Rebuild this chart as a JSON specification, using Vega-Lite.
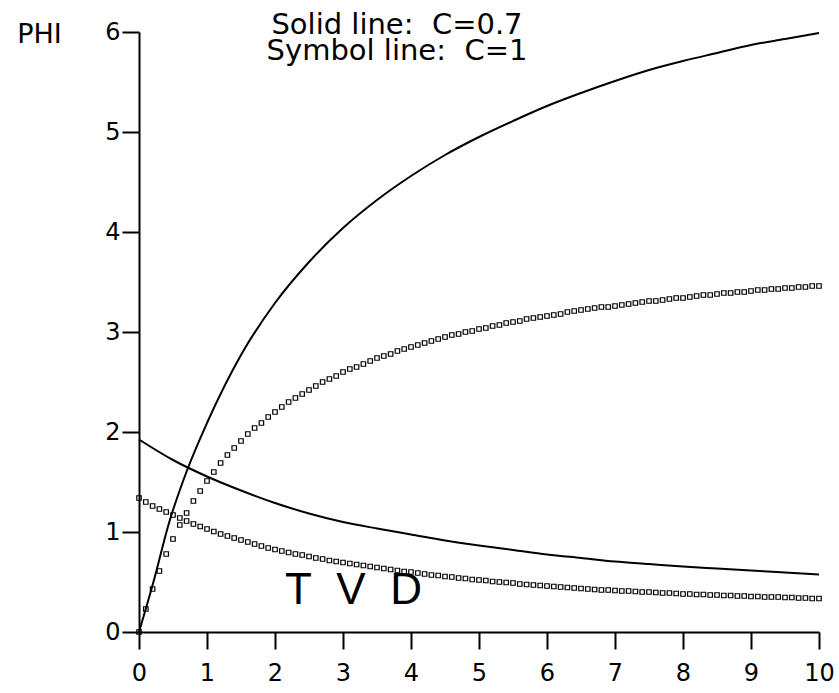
{
  "$schema": "https://vega.github.io/schema/vega-lite/v6.json",
  "autosize": "none",
  "width": 680,
  "height": 600,
  "padding": {"left": 139, "top": 32, "right": 20, "bottom": 61},
  "background": "white",
  "config": {
    "view": {"stroke": null},
    "font": "DejaVu Sans",
    "axis": {"labelFont": "DejaVu Sans", "titleFont": "DejaVu Sans", "labelColor": "black", "titleColor": "black", "domainColor": "black", "tickColor": "black", "grid": false}
  },
  "title": {
    "text": ["Solid line:\u00a0\u00a0C=0.7", "Symbol line:\u00a0\u00a0C=1"],
    "font": "DejaVu Sans",
    "fontSize": 29,
    "fontWeight": "normal",
    "color": "black",
    "anchor": "middle",
    "frame": "group",
    "lineHeight": 26,
    "offset": -46,
    "dx": -82
  },
  "datasets": {
    "solid": [
      {"x": 0, "phi": 0, "curve": "up"},
      {"x": 0.2, "phi": 0.47, "curve": "up"},
      {"x": 0.45, "phi": 1.11, "curve": "up"},
      {"x": 0.72, "phi": 1.64, "curve": "up"},
      {"x": 1.0, "phi": 2.09, "curve": "up"},
      {"x": 1.5, "phi": 2.77, "curve": "up"},
      {"x": 2.0, "phi": 3.29, "curve": "up"},
      {"x": 2.5, "phi": 3.7, "curve": "up"},
      {"x": 3.0, "phi": 4.04, "curve": "up"},
      {"x": 3.5, "phi": 4.32, "curve": "up"},
      {"x": 4.0, "phi": 4.56, "curve": "up"},
      {"x": 4.5, "phi": 4.77, "curve": "up"},
      {"x": 5.0, "phi": 4.95, "curve": "up"},
      {"x": 5.5, "phi": 5.11, "curve": "up"},
      {"x": 6.0, "phi": 5.26, "curve": "up"},
      {"x": 6.5, "phi": 5.39, "curve": "up"},
      {"x": 7.0, "phi": 5.51, "curve": "up"},
      {"x": 7.5, "phi": 5.62, "curve": "up"},
      {"x": 8.0, "phi": 5.71, "curve": "up"},
      {"x": 8.5, "phi": 5.79, "curve": "up"},
      {"x": 9.0, "phi": 5.87, "curve": "up"},
      {"x": 9.5, "phi": 5.93, "curve": "up"},
      {"x": 10, "phi": 5.99, "curve": "up"},
      {"x": 0, "phi": 1.925, "curve": "down"},
      {"x": 0.5, "phi": 1.72, "curve": "down"},
      {"x": 1.0, "phi": 1.555, "curve": "down"},
      {"x": 1.5, "phi": 1.415, "curve": "down"},
      {"x": 2.0, "phi": 1.29, "curve": "down"},
      {"x": 2.5, "phi": 1.185, "curve": "down"},
      {"x": 3.0, "phi": 1.1, "curve": "down"},
      {"x": 3.5, "phi": 1.035, "curve": "down"},
      {"x": 4.0, "phi": 0.975, "curve": "down"},
      {"x": 4.5, "phi": 0.915, "curve": "down"},
      {"x": 5.0, "phi": 0.865, "curve": "down"},
      {"x": 5.5, "phi": 0.82, "curve": "down"},
      {"x": 6.0, "phi": 0.775, "curve": "down"},
      {"x": 6.5, "phi": 0.74, "curve": "down"},
      {"x": 7.0, "phi": 0.705, "curve": "down"},
      {"x": 7.5, "phi": 0.68, "curve": "down"},
      {"x": 8.0, "phi": 0.655, "curve": "down"},
      {"x": 8.5, "phi": 0.635, "curve": "down"},
      {"x": 9.0, "phi": 0.615, "curve": "down"},
      {"x": 9.5, "phi": 0.595, "curve": "down"},
      {"x": 10, "phi": 0.575, "curve": "down"}
    ],
    "symbol": [
      {"x": 0.0, "phi": 0.0, "curve": "up"},
      {"x": 0.1, "phi": 0.23, "curve": "up"},
      {"x": 0.2, "phi": 0.43, "curve": "up"},
      {"x": 0.3, "phi": 0.61, "curve": "up"},
      {"x": 0.4, "phi": 0.78, "curve": "up"},
      {"x": 0.5, "phi": 0.93, "curve": "up"},
      {"x": 0.6, "phi": 1.07, "curve": "up"},
      {"x": 0.7, "phi": 1.19, "curve": "up"},
      {"x": 0.8, "phi": 1.31, "curve": "up"},
      {"x": 0.9, "phi": 1.41, "curve": "up"},
      {"x": 1.0, "phi": 1.51, "curve": "up"},
      {"x": 1.1, "phi": 1.6, "curve": "up"},
      {"x": 1.2, "phi": 1.69, "curve": "up"},
      {"x": 1.3, "phi": 1.77, "curve": "up"},
      {"x": 1.4, "phi": 1.84, "curve": "up"},
      {"x": 1.5, "phi": 1.91, "curve": "up"},
      {"x": 1.6, "phi": 1.98, "curve": "up"},
      {"x": 1.7, "phi": 2.04, "curve": "up"},
      {"x": 1.8, "phi": 2.09, "curve": "up"},
      {"x": 1.9, "phi": 2.15, "curve": "up"},
      {"x": 2.0, "phi": 2.2, "curve": "up"},
      {"x": 2.1, "phi": 2.25, "curve": "up"},
      {"x": 2.2, "phi": 2.3, "curve": "up"},
      {"x": 2.3, "phi": 2.34, "curve": "up"},
      {"x": 2.4, "phi": 2.38, "curve": "up"},
      {"x": 2.5, "phi": 2.42, "curve": "up"},
      {"x": 2.6, "phi": 2.46, "curve": "up"},
      {"x": 2.7, "phi": 2.5, "curve": "up"},
      {"x": 2.8, "phi": 2.53, "curve": "up"},
      {"x": 2.9, "phi": 2.56, "curve": "up"},
      {"x": 3.0, "phi": 2.6, "curve": "up"},
      {"x": 3.1, "phi": 2.63, "curve": "up"},
      {"x": 3.2, "phi": 2.65, "curve": "up"},
      {"x": 3.3, "phi": 2.68, "curve": "up"},
      {"x": 3.4, "phi": 2.71, "curve": "up"},
      {"x": 3.5, "phi": 2.74, "curve": "up"},
      {"x": 3.6, "phi": 2.76, "curve": "up"},
      {"x": 3.7, "phi": 2.78, "curve": "up"},
      {"x": 3.8, "phi": 2.81, "curve": "up"},
      {"x": 3.9, "phi": 2.83, "curve": "up"},
      {"x": 4.0, "phi": 2.85, "curve": "up"},
      {"x": 4.1, "phi": 2.87, "curve": "up"},
      {"x": 4.2, "phi": 2.89, "curve": "up"},
      {"x": 4.3, "phi": 2.91, "curve": "up"},
      {"x": 4.4, "phi": 2.93, "curve": "up"},
      {"x": 4.5, "phi": 2.95, "curve": "up"},
      {"x": 4.6, "phi": 2.97, "curve": "up"},
      {"x": 4.7, "phi": 2.98, "curve": "up"},
      {"x": 4.8, "phi": 3.0, "curve": "up"},
      {"x": 4.9, "phi": 3.01, "curve": "up"},
      {"x": 5.0, "phi": 3.03, "curve": "up"},
      {"x": 5.1, "phi": 3.04, "curve": "up"},
      {"x": 5.2, "phi": 3.06, "curve": "up"},
      {"x": 5.3, "phi": 3.07, "curve": "up"},
      {"x": 5.4, "phi": 3.09, "curve": "up"},
      {"x": 5.5, "phi": 3.1, "curve": "up"},
      {"x": 5.6, "phi": 3.11, "curve": "up"},
      {"x": 5.7, "phi": 3.13, "curve": "up"},
      {"x": 5.8, "phi": 3.14, "curve": "up"},
      {"x": 5.9, "phi": 3.15, "curve": "up"},
      {"x": 6.0, "phi": 3.16, "curve": "up"},
      {"x": 6.1, "phi": 3.17, "curve": "up"},
      {"x": 6.2, "phi": 3.18, "curve": "up"},
      {"x": 6.3, "phi": 3.2, "curve": "up"},
      {"x": 6.4, "phi": 3.21, "curve": "up"},
      {"x": 6.5, "phi": 3.22, "curve": "up"},
      {"x": 6.6, "phi": 3.23, "curve": "up"},
      {"x": 6.7, "phi": 3.24, "curve": "up"},
      {"x": 6.8, "phi": 3.25, "curve": "up"},
      {"x": 6.9, "phi": 3.25, "curve": "up"},
      {"x": 7.0, "phi": 3.26, "curve": "up"},
      {"x": 7.1, "phi": 3.27, "curve": "up"},
      {"x": 7.2, "phi": 3.28, "curve": "up"},
      {"x": 7.3, "phi": 3.29, "curve": "up"},
      {"x": 7.4, "phi": 3.3, "curve": "up"},
      {"x": 7.5, "phi": 3.31, "curve": "up"},
      {"x": 7.6, "phi": 3.31, "curve": "up"},
      {"x": 7.7, "phi": 3.32, "curve": "up"},
      {"x": 7.8, "phi": 3.33, "curve": "up"},
      {"x": 7.9, "phi": 3.34, "curve": "up"},
      {"x": 8.0, "phi": 3.34, "curve": "up"},
      {"x": 8.1, "phi": 3.35, "curve": "up"},
      {"x": 8.2, "phi": 3.36, "curve": "up"},
      {"x": 8.3, "phi": 3.37, "curve": "up"},
      {"x": 8.4, "phi": 3.37, "curve": "up"},
      {"x": 8.5, "phi": 3.38, "curve": "up"},
      {"x": 8.6, "phi": 3.39, "curve": "up"},
      {"x": 8.7, "phi": 3.39, "curve": "up"},
      {"x": 8.8, "phi": 3.4, "curve": "up"},
      {"x": 8.9, "phi": 3.4, "curve": "up"},
      {"x": 9.0, "phi": 3.41, "curve": "up"},
      {"x": 9.1, "phi": 3.42, "curve": "up"},
      {"x": 9.2, "phi": 3.42, "curve": "up"},
      {"x": 9.3, "phi": 3.43, "curve": "up"},
      {"x": 9.4, "phi": 3.43, "curve": "up"},
      {"x": 9.5, "phi": 3.44, "curve": "up"},
      {"x": 9.6, "phi": 3.44, "curve": "up"},
      {"x": 9.7, "phi": 3.45, "curve": "up"},
      {"x": 9.8, "phi": 3.45, "curve": "up"},
      {"x": 9.9, "phi": 3.46, "curve": "up"},
      {"x": 10.0, "phi": 3.46, "curve": "up"},
      {"x": 0.0, "phi": 1.34, "curve": "down"},
      {"x": 0.1, "phi": 1.3, "curve": "down"},
      {"x": 0.2, "phi": 1.26, "curve": "down"},
      {"x": 0.3, "phi": 1.23, "curve": "down"},
      {"x": 0.4, "phi": 1.2, "curve": "down"},
      {"x": 0.5, "phi": 1.17, "curve": "down"},
      {"x": 0.6, "phi": 1.14, "curve": "down"},
      {"x": 0.7, "phi": 1.11, "curve": "down"},
      {"x": 0.8, "phi": 1.08, "curve": "down"},
      {"x": 0.9, "phi": 1.055, "curve": "down"},
      {"x": 1.0, "phi": 1.03, "curve": "down"},
      {"x": 1.1, "phi": 1.005, "curve": "down"},
      {"x": 1.2, "phi": 0.98, "curve": "down"},
      {"x": 1.3, "phi": 0.96, "curve": "down"},
      {"x": 1.4, "phi": 0.94, "curve": "down"},
      {"x": 1.5, "phi": 0.92, "curve": "down"},
      {"x": 1.6, "phi": 0.9, "curve": "down"},
      {"x": 1.7, "phi": 0.88, "curve": "down"},
      {"x": 1.8, "phi": 0.86, "curve": "down"},
      {"x": 1.9, "phi": 0.84, "curve": "down"},
      {"x": 2.0, "phi": 0.825, "curve": "down"},
      {"x": 2.1, "phi": 0.81, "curve": "down"},
      {"x": 2.2, "phi": 0.795, "curve": "down"},
      {"x": 2.3, "phi": 0.78, "curve": "down"},
      {"x": 2.4, "phi": 0.77, "curve": "down"},
      {"x": 2.5, "phi": 0.755, "curve": "down"},
      {"x": 2.6, "phi": 0.74, "curve": "down"},
      {"x": 2.7, "phi": 0.73, "curve": "down"},
      {"x": 2.8, "phi": 0.715, "curve": "down"},
      {"x": 2.9, "phi": 0.705, "curve": "down"},
      {"x": 3.0, "phi": 0.695, "curve": "down"},
      {"x": 3.1, "phi": 0.685, "curve": "down"},
      {"x": 3.2, "phi": 0.675, "curve": "down"},
      {"x": 3.3, "phi": 0.665, "curve": "down"},
      {"x": 3.4, "phi": 0.655, "curve": "down"},
      {"x": 3.5, "phi": 0.645, "curve": "down"},
      {"x": 3.6, "phi": 0.635, "curve": "down"},
      {"x": 3.7, "phi": 0.625, "curve": "down"},
      {"x": 3.8, "phi": 0.615, "curve": "down"},
      {"x": 3.9, "phi": 0.605, "curve": "down"},
      {"x": 4.0, "phi": 0.6, "curve": "down"},
      {"x": 4.1, "phi": 0.59, "curve": "down"},
      {"x": 4.2, "phi": 0.58, "curve": "down"},
      {"x": 4.3, "phi": 0.57, "curve": "down"},
      {"x": 4.4, "phi": 0.565, "curve": "down"},
      {"x": 4.5, "phi": 0.555, "curve": "down"},
      {"x": 4.6, "phi": 0.55, "curve": "down"},
      {"x": 4.7, "phi": 0.54, "curve": "down"},
      {"x": 4.8, "phi": 0.535, "curve": "down"},
      {"x": 4.9, "phi": 0.525, "curve": "down"},
      {"x": 5.0, "phi": 0.52, "curve": "down"},
      {"x": 5.1, "phi": 0.515, "curve": "down"},
      {"x": 5.2, "phi": 0.505, "curve": "down"},
      {"x": 5.3, "phi": 0.5, "curve": "down"},
      {"x": 5.4, "phi": 0.495, "curve": "down"},
      {"x": 5.5, "phi": 0.49, "curve": "down"},
      {"x": 5.6, "phi": 0.48, "curve": "down"},
      {"x": 5.7, "phi": 0.475, "curve": "down"},
      {"x": 5.8, "phi": 0.47, "curve": "down"},
      {"x": 5.9, "phi": 0.465, "curve": "down"},
      {"x": 6.0, "phi": 0.46, "curve": "down"},
      {"x": 6.1, "phi": 0.455, "curve": "down"},
      {"x": 6.2, "phi": 0.45, "curve": "down"},
      {"x": 6.3, "phi": 0.445, "curve": "down"},
      {"x": 6.4, "phi": 0.44, "curve": "down"},
      {"x": 6.5, "phi": 0.435, "curve": "down"},
      {"x": 6.6, "phi": 0.43, "curve": "down"},
      {"x": 6.7, "phi": 0.425, "curve": "down"},
      {"x": 6.8, "phi": 0.42, "curve": "down"},
      {"x": 6.9, "phi": 0.42, "curve": "down"},
      {"x": 7.0, "phi": 0.415, "curve": "down"},
      {"x": 7.1, "phi": 0.41, "curve": "down"},
      {"x": 7.2, "phi": 0.41, "curve": "down"},
      {"x": 7.3, "phi": 0.405, "curve": "down"},
      {"x": 7.4, "phi": 0.4, "curve": "down"},
      {"x": 7.5, "phi": 0.4, "curve": "down"},
      {"x": 7.6, "phi": 0.395, "curve": "down"},
      {"x": 7.7, "phi": 0.39, "curve": "down"},
      {"x": 7.8, "phi": 0.39, "curve": "down"},
      {"x": 7.9, "phi": 0.385, "curve": "down"},
      {"x": 8.0, "phi": 0.38, "curve": "down"},
      {"x": 8.1, "phi": 0.38, "curve": "down"},
      {"x": 8.2, "phi": 0.375, "curve": "down"},
      {"x": 8.3, "phi": 0.375, "curve": "down"},
      {"x": 8.4, "phi": 0.37, "curve": "down"},
      {"x": 8.5, "phi": 0.37, "curve": "down"},
      {"x": 8.6, "phi": 0.365, "curve": "down"},
      {"x": 8.7, "phi": 0.365, "curve": "down"},
      {"x": 8.8, "phi": 0.36, "curve": "down"},
      {"x": 8.9, "phi": 0.36, "curve": "down"},
      {"x": 9.0, "phi": 0.355, "curve": "down"},
      {"x": 9.1, "phi": 0.355, "curve": "down"},
      {"x": 9.2, "phi": 0.35, "curve": "down"},
      {"x": 9.3, "phi": 0.35, "curve": "down"},
      {"x": 9.4, "phi": 0.35, "curve": "down"},
      {"x": 9.5, "phi": 0.345, "curve": "down"},
      {"x": 9.6, "phi": 0.345, "curve": "down"},
      {"x": 9.7, "phi": 0.34, "curve": "down"},
      {"x": 9.8, "phi": 0.34, "curve": "down"},
      {"x": 9.9, "phi": 0.335, "curve": "down"},
      {"x": 10.0, "phi": 0.335, "curve": "down"}
    ]
  },
  "layer": [
    {
      "data": {"name": "solid"},
      "mark": {"type": "line", "color": "black", "strokeWidth": 2, "interpolate": "monotone", "clip": false},
      "encoding": {
        "x": {
          "field": "x", "type": "quantitative",
          "scale": {"domain": [0, 10], "nice": false, "zero": false},
          "axis": {
            "values": [0, 1, 2, 3, 4, 5, 6, 7, 8, 9, 10],
            "format": "d",
            "tickSize": 17, "tickWidth": 2, "domainWidth": 2,
            "labelFontSize": 24, "labelPadding": 12, "labelFontWeight": "normal",
            "labelFlush": false,
            "title": "T\u00a0\u00a0V\u00a0\u00a0D",
            "titleFont": "Liberation Sans",
            "titleFontSize": 44, "titleFontWeight": "normal",
            "titleAlign": "center", "titleBaseline": "alphabetic",
            "titleX": 214, "titleY": -29
          }
        },
        "y": {
          "field": "phi", "type": "quantitative",
          "scale": {"domain": [0, 6], "nice": false, "zero": false},
          "axis": {
            "values": [0, 1, 2, 3, 4, 5, 6],
            "format": "d",
            "tickSize": 17, "tickWidth": 2, "domainWidth": 2,
            "labelFontSize": 24, "labelPadding": 2, "labelFontWeight": "normal",
            "labelFlush": false,
            "title": "PHI",
            "titleAngle": 0,
            "titleFontSize": 27, "titleFontWeight": "normal",
            "titleAlign": "center", "titleBaseline": "alphabetic",
            "titleX": -100, "titleY": 10
          }
        },
        "detail": {"field": "curve"}
      }
    },
    {
      "data": {"name": "symbol"},
      "mark": {"type": "point", "shape": "square", "size": 20, "filled": false, "color": "black", "strokeWidth": 1.2, "opacity": 1, "clip": false},
      "encoding": {
        "x": {"field": "x", "type": "quantitative"},
        "y": {"field": "phi", "type": "quantitative"}
      }
    }
  ]
}
